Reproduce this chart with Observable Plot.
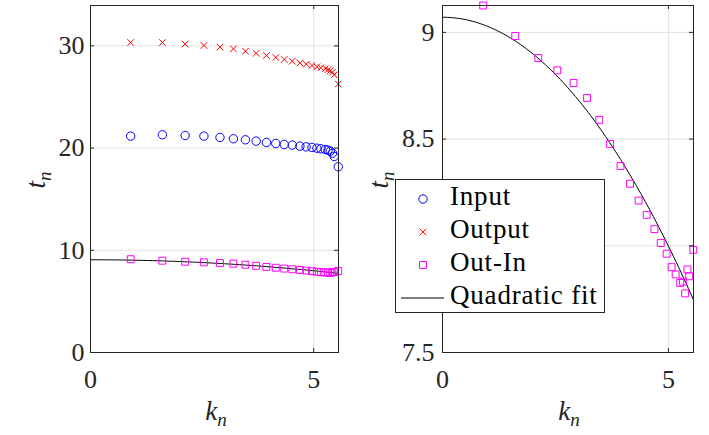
<!DOCTYPE html>
<html><head><meta charset="utf-8">
<script src="https://cdn.jsdelivr.net/npm/d3@7"></script>
<script src="https://cdn.jsdelivr.net/npm/@observablehq/plot@0.6"></script>
<style>
body{margin:0;background:#fff;}
#wrap{position:relative;width:709px;height:435px;overflow:hidden;font-family:"Liberation Serif",serif;color:#262626;}
.panel{position:absolute;top:0;}
.lab{position:absolute;font-size:27px;font-style:italic;white-space:nowrap;line-height:1;}
.lab sub{font-size:19px;vertical-align:baseline;position:relative;top:6px;}
.rot{transform:translate(-50%,-50%) rotate(-90deg);}
.hor{transform:translate(-50%,0);}
#legend{position:absolute;left:395px;top:179px;width:210px;height:134px;background:#fff;border:1px solid #262626;box-sizing:border-box;}
#legend .t{position:absolute;left:54px;font-size:27px;letter-spacing:0.8px;line-height:1;color:#000;}
#legend svg{position:absolute;left:0;top:0;}
</style></head><body><div id="wrap"></div>
<script>
// ---- data ----
const k = [0.90,1.61,2.12,2.54,2.90,3.20,3.47,3.71,3.94,4.15,4.34,4.52,4.69,4.83,4.96,5.07,5.16,5.26,5.32,5.37,5.42,5.46,5.55];
const inputT = [21.17,21.30,21.23,21.17,21.04,20.91,20.81,20.68,20.55,20.45,20.35,20.29,20.19,20.12,20.06,19.99,19.93,19.86,19.80,19.70,19.50,19.18,18.17];
const outputT = [30.33,30.33,30.17,30.04,29.88,29.71,29.48,29.27,29.06,28.86,28.67,28.50,28.34,28.21,28.08,27.95,27.86,27.76,27.66,27.56,27.43,27.17,26.26];
const outInT = [9.126,8.983,8.880,8.822,8.763,8.693,8.590,8.477,8.374,8.291,8.212,8.145,8.078,8.013,7.963,7.900,7.866,7.826,7.832,7.777,7.889,7.857,7.981];
const fitCoef = [9.071, 0, -0.0429]; // t = a + b k + c k^2
const xDomain = [0, 5.555];
const xTicks = [0, 5];
const leftYDomain = [0, 33.95];
const leftYTicks = [0, 10, 20, 30];
const rightYDomain = [7.5, 9.126];
const rightYTicks = [7.5, 8, 8.5, 9];
const legendLabels = ["Input", "Output", "Out-In", "Quadratic fit"];

// ---- derived tables ----
const pts = k.map((kk, i) => ({k: kk, input: inputT[i], output: outputT[i], outIn: outInT[i]}));
const fitPts = d3.range(0, 101).map(i => {
  const kk = xDomain[0] + (xDomain[1] - xDomain[0]) * i / 100;
  return {k: kk, t: fitCoef[0] + fitCoef[1] * kk + fitCoef[2] * kk * kk};
});

const AX = "#262626", GRID = "#e2e2e2";
const H = 435, MT = 5, MB = 83;
const FH = H - MT - MB;
const R_CIRC = 4.2, R_TIMES = 3.1, R_SQ = 3.9;

function panel({left, width, marginLeft, marginRight, yDomain, yTicks, dataMarks, pad}) {
  const FW = width - marginLeft - marginRight;
  const fmt = d => String(d);
  const p = Plot.plot({
    width, height: H, marginLeft, marginRight, marginTop: MT, marginBottom: MB,
    style: {fontFamily: "Liberation Serif, serif", fontSize: "26px", color: AX, background: "transparent", overflow: "visible"},
    x: {domain: xDomain},
    y: {domain: yDomain},
    marks: [
      Plot.gridX(xTicks, {stroke: GRID, strokeOpacity: 1}),
      Plot.gridY(yTicks, {stroke: GRID, strokeOpacity: 1}),
      ...dataMarks,
      Plot.frame({stroke: AX, strokeWidth: 1}),
      Plot.ruleX(xTicks, {x: d => d, stroke: AX, insetTop: FH - 4}),
      Plot.ruleX(xTicks, {x: d => d, stroke: AX, insetBottom: FH - 4}),
      Plot.ruleY(yTicks, {y: d => d, stroke: AX, insetRight: FW - 4}),
      Plot.ruleY(yTicks, {y: d => d, stroke: AX, insetLeft: FW - 4}),
      Plot.axisX(xTicks, {tickSize: 0, tickPadding: 17, label: null, tickFormat: fmt}),
      Plot.axisY(yTicks, {tickSize: 0, tickPadding: pad, label: null, tickFormat: fmt})
    ]
  });
  p.classList.add("panel");
  p.style.left = left + "px";
  document.getElementById("wrap").appendChild(p);
}

const fitLine = Plot.line(fitPts, {x: "k", y: "t", stroke: "#000", strokeWidth: 1});
const sqMark = Plot.dot(pts, {x: "k", y: "outIn", symbol: "square", r: R_SQ, stroke: "#ff00ff", fill: "none", strokeWidth: 1});

panel({
  left: 0, width: 354, marginLeft: 90, marginRight: 16,
  yDomain: leftYDomain, yTicks: leftYTicks, pad: 6,
  dataMarks: [
    Plot.dot(pts, {x: "k", y: "input", symbol: "circle", r: R_CIRC, stroke: "#0000ff", fill: "none", strokeWidth: 1}),
    Plot.dot(pts, {x: "k", y: "output", symbol: "times", r: R_TIMES, stroke: "#ff0000", strokeWidth: 1}),
    fitLine,
    sqMark
  ]
});
panel({
  left: 354, width: 355, marginLeft: 88, marginRight: 16,
  yDomain: rightYDomain, yTicks: rightYTicks, pad: 8,
  dataMarks: [fitLine, sqMark]
});

// axis labels
const wrap = document.getElementById("wrap");
function lab(html, x, y, cls) {
  const d = document.createElement("div");
  d.className = "lab " + cls;
  d.innerHTML = html;
  d.style.left = x + "px"; d.style.top = y + "px";
  wrap.appendChild(d);
}
lab("t<sub>n</sub>", 36, 180, "rot");
lab("t<sub>n</sub>", 379, 180, "rot");
lab("k<sub>n</sub>", 216, 398, "hor");
lab("k<sub>n</sub>", 569, 398, "hor");

// legend
const lg = document.createElement("div");
lg.id = "legend";
const sym = (type, size) => d3.symbol(type, size)();
const rowsY = [19, 52, 85, 118];
let svg = `<svg width="210" height="134">`;
svg += `<path d="${sym(d3.symbolCircle, Math.PI * R_CIRC * R_CIRC)}" transform="translate(27,${rowsY[0]})" fill="none" stroke="#0000ff"/>`;
svg += `<path d="${sym(d3.symbolTimes, Math.PI * R_TIMES * R_TIMES)}" transform="translate(27,${rowsY[1]})" fill="none" stroke="#ff0000"/>`;
svg += `<path d="${sym(d3.symbolSquare, Math.PI * R_SQ * R_SQ)}" transform="translate(27,${rowsY[2]})" fill="none" stroke="#ff00ff"/>`;
svg += `<line x1="5" x2="48" y1="${rowsY[3]}" y2="${rowsY[3]}" stroke="#000" stroke-width="1"/>`;
svg += `</svg>`;
lg.innerHTML = svg + legendLabels.map((t, i) => `<div class="t" style="top:${rowsY[i] - 16}px">${t}</div>`).join("");
wrap.appendChild(lg);
</script>
</body></html>
